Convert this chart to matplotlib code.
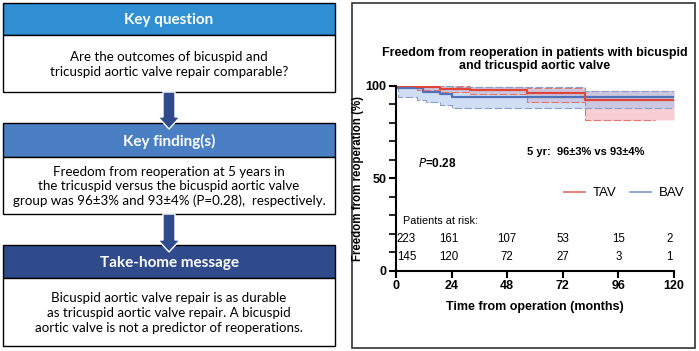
import numpy as np
import matplotlib
matplotlib.use('Agg')
import matplotlib.pyplot as plt
from matplotlib.patches import Rectangle, Polygon
from matplotlib.lines import Line2D

# --- data ---
# TAV (tricuspid) Kaplan-Meier
tav_t = [0, 9, 19, 32, 56.5, 81.5]
tav_s = [100, 99.3, 98.4, 97.8, 96.3, 92.2]
tav_hi_t = [0, 32, 56.5, 81.5]
tav_hi = [100, 99.6, 98.7, 97.3]
tav_lo_t = [0, 9, 19, 32, 56.5, 81.5]
tav_lo = [99.2, 97.8, 96.8, 95.8, 91.5, 81.6]
tav_lo_end = 112

# BAV (bicuspid) Kaplan-Meier
bav_t = [0, 1, 11.6, 19, 24]
bav_s = [100, 98.8, 97.0, 95.5, 93.9]
bav_hi_t = [0, 1, 24, 81.5]
bav_hi = [100, 99.8, 99.3, 97.3]
bav_lo_t = [0, 1, 9, 13, 19, 24]
bav_lo = [100, 94.2, 92.4, 91.2, 89.7, 88.2]

t_end = 120

risk_x = [4.5, 23, 48, 72, 96, 118]
risk_tav = [223, 161, 107, 53, 15, 2]
risk_bav = [145, 120, 72, 27, 3, 1]

xticks = [0, 24, 48, 72, 96, 120]

boxes = [
    ("Key question", "#2f8fd2",
     "Are the outcomes of bicuspid and\ntricuspid aortic valve repair comparable?"),
    ("Key finding(s)", "#4b7fc4",
     "Freedom from reoperation at 5 years in\nthe tricuspid versus the bicuspid aortic valve\n"
     "group was 96\u00b13% and 93\u00b14% (P=0.28),  respectively."),
    ("Take-home message", "#2f4b8c",
     "Bicuspid aortic valve repair is as durable\nas tricuspid aortic valve repair. A bicuspid\n"
     "aortic valve is not a predictor of reoperations."),
]

RED = "#e0453a"
BLUE = "#4f72b8"


def step_vals(ts, vs, grid):
    idx = np.searchsorted(ts, grid, side='right') - 1
    return np.asarray(vs)[idx]


fig = plt.figure(figsize=(6.99, 3.51), dpi=100)

# overlay in pixel coordinates for the summary boxes
bg = fig.add_axes([0, 0, 1, 1])
bg.set_xlim(0, 699)
bg.set_ylim(351, 0)
bg.axis('off')

lft, rgt = 3, 335
# (header top, header bottom, body bottom)
geo = [(3, 35, 92), (123, 157, 214), (245, 278, 346)]
for (head, col, body), (y0, y1, y2) in zip(boxes, geo):
    bg.add_patch(Rectangle((lft, y0), rgt - lft, y1 - y0, facecolor=col,
                           edgecolor='black', lw=1.0, zorder=2))
    bg.add_patch(Rectangle((lft, y1), rgt - lft, y2 - y1, facecolor='white',
                           edgecolor='black', lw=1.0, zorder=2))
    bg.text((lft + rgt) / 2, (y0 + y1) / 2 + 1, head, color='white', fontsize=11,
            fontweight='bold', family='Lato', ha='center', va='center', zorder=3)
    bg.text((lft + rgt) / 2, (y1 + y2) / 2 + 1, body, color='black', fontsize=9.6,
            family='Lato', ha='center', va='center', linespacing=1.25, zorder=3)

# arrows between boxes
cx = 169
for ytop, yhead, ytip in [(92, 117, 129), (214, 240, 252)]:
    pts = [(cx - 6, ytop), (cx + 6, ytop), (cx + 6, yhead), (cx + 11, yhead),
           (cx, ytip), (cx - 11, yhead), (cx - 6, yhead)]
    bg.add_patch(Polygon(pts, closed=True, facecolor='#2f4b8c',
                         edgecolor='white', lw=1.0, zorder=4))

# right panel border
bg.add_patch(Rectangle((352, 3), 343, 345, facecolor='none',
                       edgecolor='#333333', lw=1.2, zorder=2))

# --- survival plot ---
ax = fig.add_axes([396 / 699, 1 - 270.6 / 351, 278 / 699, 184.6 / 351])
ax.set_zorder(5)
ax.patch.set_alpha(0)

grid = np.linspace(0, t_end, 2401)
for lo_t, lo, hi_t, hi, fc in [(tav_lo_t, tav_lo, tav_hi_t, tav_hi, '#f4a7b0'),
                               (bav_lo_t, bav_lo, bav_hi_t, bav_hi, '#a9c3ec')]:
    ax.fill_between(grid, step_vals(lo_t, lo, grid), step_vals(hi_t, hi, grid),
                    color=fc, alpha=0.55, lw=0, step='post')

dash = (0, (7, 2))
ax.step(tav_hi_t + [t_end], tav_hi + [tav_hi[-1]], where='post', color='#e8766a',
        lw=0.8, ls=dash)
ax.step(tav_lo_t + [tav_lo_end], tav_lo + [tav_lo[-1]], where='post', color='#e8766a',
        lw=0.8, ls=dash)
ax.step(bav_hi_t + [t_end], bav_hi + [bav_hi[-1]], where='post', color='#8a9fcc',
        lw=0.8, ls=dash)
ax.step(bav_lo_t + [t_end], bav_lo + [bav_lo[-1]], where='post', color='#8a9fcc',
        lw=0.8, ls=dash)
ax.step(bav_t + [t_end], bav_s + [bav_s[-1]], where='post', color=BLUE, lw=1.6)
ax.step(tav_t + [t_end], tav_s + [tav_s[-1]], where='post', color=RED, lw=1.6)

ax.set_xlim(0, t_end)
ax.set_ylim(0, 100)
for s in ['top', 'right']:
    ax.spines[s].set_visible(False)
for s in ['left', 'bottom']:
    ax.spines[s].set_linewidth(1.5)
ax.set_xticks(xticks)
ax.set_yticks([0, 50, 100])
ax.set_yticks(np.arange(10, 100, 10), minor=True)
ax.tick_params(axis='both', which='major', length=5, width=1.5, labelsize=9, pad=2)
ax.tick_params(axis='y', which='minor', length=5, width=1.2)
for lab in ax.get_xticklabels() + ax.get_yticklabels():
    lab.set_fontweight('bold')
    lab.set_family('Liberation Sans')

ax.set_xlabel('Time from operation (months)', fontsize=9, fontweight='bold',
              family='Liberation Sans', labelpad=6)
ax.set_ylabel('Freedom from reoperation (%)', fontsize=8.3, fontweight='bold',
              family='Liberation Sans', labelpad=1)
ax.set_title('Freedom from reoperation in patients with bicuspid\nand tricuspid aortic valve',
             fontsize=9, fontweight='bold', family='Liberation Sans', pad=12)

ax.text(56.5, 64, '5 yr:  96\u00b13% vs 93\u00b14%', fontsize=8, fontweight='bold',
        family='Liberation Sans', va='center')
ax.text(9.5, 58, r'$\bf{\it{P}}$=0.28', fontsize=8.5, fontweight='bold',
        family='Liberation Sans', va='center')

ax.text(3, 27, 'Patients at risk:', fontsize=7.8, family='Liberation Sans', va='center')
for x, a, b in zip(risk_x, risk_tav, risk_bav):
    ax.text(x, 17, str(a), fontsize=8.3, family='Liberation Sans', ha='center', va='center')
    ax.text(x, 7.5, str(b), fontsize=8.3, family='Liberation Sans', ha='center', va='center')

handles = [Line2D([], [], color='#d9705f', lw=1.2),
           Line2D([], [], color='#7b97c6', lw=1.2)]
ax.legend(handles, ['TAV', 'BAV'], loc='center', bbox_to_anchor=(0.82, 0.42),
          ncol=2, frameon=False, handlelength=1.6, handletextpad=0.6,
          columnspacing=1.0, prop={'family': 'Liberation Sans', 'size': 9.5})

fig.savefig('out.png', dpi=100)
